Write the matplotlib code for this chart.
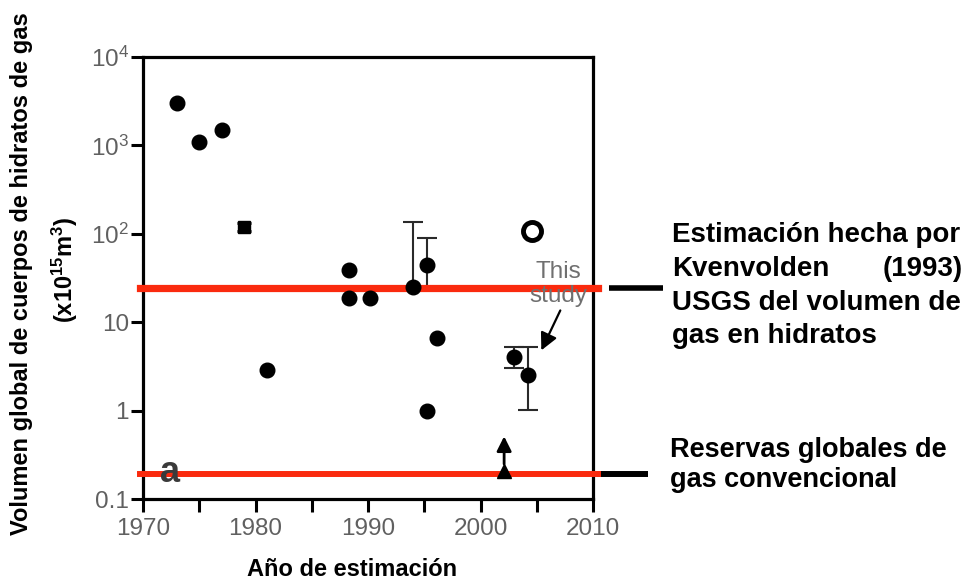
import matplotlib
matplotlib.use("Agg")
import matplotlib.pyplot as plt
from matplotlib.transforms import blended_transform_factory

plt.rcParams['font.family'] = ['Liberation Sans', 'DejaVu Sans']
plt.rcParams['mathtext.fontset'] = 'custom'
plt.rcParams['mathtext.rm'] = 'Liberation Sans'
plt.rcParams['mathtext.it'] = 'Liberation Sans:italic'
plt.rcParams['mathtext.bf'] = 'Liberation Sans:bold'

# ---- data ----
point_years = [1973, 1975, 1977, 1981, 1988.3, 1988.3, 1990.2, 1995.2, 1996.1]
point_values = [3000, 1100, 1500, 2.9, 39, 19, 19, 1.0, 6.6]

err_years = [1994.0, 1995.2, 2003.0, 2004.2]
err_values = [25, 44, 4.0, 2.5]
err_low = [25, 25, 3.0, 1.02]
err_high = [137, 89, 5.2, 5.2]

square_year = [1979]
square_value = [120]
square_low = [108]
square_high = [133]

open_year = [2004.6]
open_value = [108]

lower_bound_year = [2002.1]
lower_bound_value = [0.21]
lower_bound_arrow_to = [0.55]

hydrate_estimate = 24.2      # Kvenvolden (1993) USGS
conventional_reserves = 0.19

x_ticks = [1970, 1975, 1980, 1985, 1990, 1995, 2000, 2005, 2010]
x_tick_labels = ['1970', '', '1980', '', '1990', '', '2000', '', '2010']
y_ticks = [0.1, 1, 10, 100, 1000, 10000]
y_tick_labels = ['0.1', '1', '10', '10$^2$', '10$^3$', '10$^4$']

# ---- figure ----
W, H = 967, 585
fig = plt.figure(figsize=(W / 100, H / 100), dpi=100)
ax = fig.add_axes([143 / W, 1 - 499 / H, 450 / W, 442 / H])
ax.set_yscale('log')
ax.set_xlim(1970, 2010)
ax.set_ylim(0.1, 10000)

for s in ax.spines.values():
    s.set_linewidth(2.3)
    s.set_color('black')

ax.set_xticks(x_ticks)
ax.set_xticklabels(x_tick_labels)
ax.set_yticks(y_ticks)
ax.set_yticklabels(y_tick_labels)
ax.yaxis.set_minor_locator(matplotlib.ticker.NullLocator())
ax.tick_params(axis='both', which='major', length=9, width=2.2, color='black',
               labelsize=17.5, labelcolor='#606060', direction='out')
ax.tick_params(axis='x', pad=5)
ax.tick_params(axis='y', pad=1)

# error bars (under red lines)
yl = [v - lo for v, lo in zip(err_values, err_low)]
yh = [hi - v for v, hi in zip(err_values, err_high)]
ax.errorbar(err_years, err_values, yerr=[yl, yh], fmt='none', ecolor='#2a2a2a',
            elinewidth=1.5, capsize=7, capthick=1.5, zorder=2)
ax.errorbar(square_year, square_value,
            yerr=[[square_value[0] - square_low[0]], [square_high[0] - square_value[0]]],
            fmt='none', ecolor='black', elinewidth=1.5, capsize=5, capthick=2, zorder=2)

# reference lines
ax.axhline(hydrate_estimate, xmin=-0.007, xmax=1.011, color='#fa2a0e', lw=5.2,
           zorder=3, clip_on=False)
ax.axhline(conventional_reserves, xmin=-0.007, xmax=1.011, color='#fa2a0e', lw=4.3,
           zorder=3, clip_on=False)

# markers
ax.plot(point_years, point_values, 'o', color='black', ms=10.5, zorder=4)
ax.plot(err_years, err_values, 'o', color='black', ms=10.5, zorder=4)
ax.plot(square_year, square_value, 's', color='black', ms=8, zorder=4)
ax.plot(open_year, open_value, 'o', mfc='white', mec='black', mew=3.5, ms=13, zorder=4)
ax.plot(lower_bound_year, lower_bound_value, '^', color='black', ms=10, zorder=4)
ax.annotate('', xy=(lower_bound_year[0], lower_bound_arrow_to[0]),
            xytext=(lower_bound_year[0], lower_bound_value[0] * 1.1),
            arrowprops=dict(arrowstyle='-|>', color='black', lw=2,
                            mutation_scale=22), zorder=5)

# panel letter and "This study"
ax.text(1972.4, 0.2, 'a', fontsize=26, fontweight='bold', color='#3a3a3a',
        ha='center', va='center', zorder=5)
ax.text(2006.9, 27, 'This\nstudy', fontsize=17.5, color='#707070', ha='center',
        va='center', multialignment='center', linespacing=1.15, zorder=5)
ax.annotate('', xy=(2005.3, 4.5), xytext=(2007.2, 14.5),
            arrowprops=dict(arrowstyle='-|>', color='black', lw=1.6,
                            mutation_scale=26), zorder=5)

# black connector lines to the right texts
tr = blended_transform_factory(ax.transAxes, ax.transData)
ax.plot([1.0356, 1.1556], [hydrate_estimate, hydrate_estimate], color='black', lw=4,
        transform=tr, clip_on=False, solid_capstyle='butt')
ax.plot([1.009, 1.122], [conventional_reserves, conventional_reserves], color='black',
        lw=4.3, transform=tr, clip_on=False, solid_capstyle='butt')

# right annotations
tk = dict(fontsize=20, fontweight='bold', color='black', va='baseline')
tk2 = dict(fontsize=19.5, fontweight='bold', color='black', va='baseline')
x0 = 672 / W
x1 = 963 / W
fig.text(x0, 1 - 242 / H, 'Estimación hecha por', ha='left', **tk)
fig.text(x0, 1 - 276 / H, 'Kvenvolden', ha='left', **tk)
fig.text(x1, 1 - 276 / H, '(1993)', ha='right', **tk)
fig.text(x0, 1 - 310 / H, 'USGS del volumen de', ha='left', **tk)
fig.text(x0, 1 - 343 / H, 'gas en hidratos', ha='left', **tk)
fig.text(x0 - 2 / W, 1 - 457 / H, 'Reservas globales de', ha='left', **tk2)
fig.text(x0 - 2 / W, 1 - 487 / H, 'gas convencional', ha='left', **tk2)

# axis labels
fig.text(22 / W, 0.533, 'Volumen global de cuerpos de hidratos de gas', rotation=90,
         ha='center', va='center', fontsize=17, fontweight='bold')
fig.text(65 / W, 0.538, r'(x10$^{\mathbf{15}}$m$^{\mathbf{3}}$)', rotation=90,
         ha='center', va='center', fontsize=17, fontweight='bold')
fig.text(352 / W, 1 - 570 / H, 'Año de estimación', ha='center', va='center',
         fontsize=17, fontweight='bold')

fig.savefig('out.png', dpi=100)
